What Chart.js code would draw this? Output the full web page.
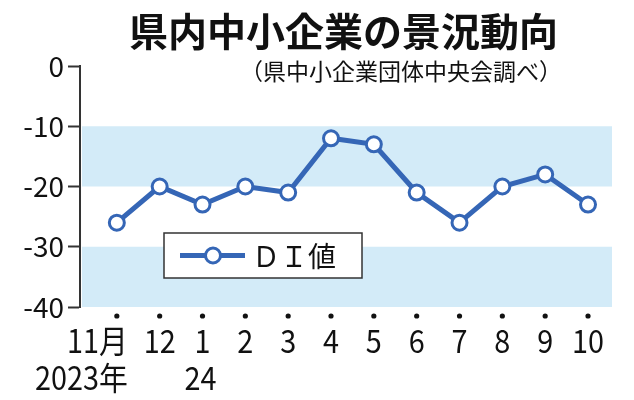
<!DOCTYPE html>
<html>
<head>
<meta charset="utf-8">
<script src="https://cdn.jsdelivr.net/npm/chart.js@4/dist/chart.umd.min.js"></script>
<style>
  html, body { margin: 0; padding: 0; background: #fff; }
  canvas { display: block; }
</style>
</head>
<body>
<canvas id="grafico" width="634" height="400"></canvas>
<script>
const titulo = '県内中小企業の景況動向'
const fuente = '（県中小企業団体中央会調べ）'
const meses = ['11月', '12', '1', '2', '3', '4', '5', '6', '7', '8', '9', '10']
const anios = ['2023年', '', '24', '', '', '', '', '', '', '', '', '']
const valoresDI = [-26, -20, -23, -20, -21, -12, -13, -21, -26, -20, -18, -23]
const etiquetaSerie = 'ＤＩ値'
const ticksY = [0, -10, -20, -30, -40]
const bandas = [[-10, -20], [-30, -40]]

const FAMILIA = '"Noto Sans CJK JP", "Noto Sans", sans-serif'
const AZUL = '#3566b6'

// texto un poco angosto, como en el original
const textoAngosto = (ctx, texto, x, y, alinear) => {
  ctx.save()
  ctx.translate(x, y)
  ctx.scale(0.9, 1)
  ctx.textAlign = alinear
  ctx.fillText(texto, 0, 0)
  ctx.restore()
}

// bandas celestes detras de la linea
const pluginBandas = {
  id: 'bandas',
  beforeDatasetsDraw(chart) {
    const { ctx, chartArea, scales } = chart
    ctx.save()
    ctx.fillStyle = '#d3ebf8'
    bandas.forEach(([a, b]) => {
      const y1 = scales.y.getPixelForValue(a)
      const y2 = scales.y.getPixelForValue(b)
      ctx.fillRect(chartArea.left + 2, y1, chartArea.right - chartArea.left - 2, y2 - y1)
    })
    ctx.restore()
  },
}

// titulo, eje x con puntos y leyenda en caja
const pluginTextos = {
  id: 'textos',
  afterDraw(chart) {
    const { ctx, chartArea, scales } = chart
    ctx.save()
    ctx.fillStyle = '#111'
    ctx.textBaseline = 'middle'
    ctx.textAlign = 'right'
    ctx.font = 'bold 39px ' + FAMILIA
    ctx.fillText(titulo, 558, 31)
    ctx.font = '23px ' + FAMILIA
    ctx.fillText(fuente, 562, 71)

    // eje x
    const base = chartArea.bottom
    ctx.font = '32px ' + FAMILIA
    meses.forEach((m, i) => {
      const x = scales.x.getPixelForValue(i)
      ctx.beginPath()
      ctx.arc(x, base + 9, 2.6, 0, Math.PI * 2)
      ctx.fill()
      if (i === 0) textoAngosto(ctx, m, x + 11, base + 34, 'right')
      else textoAngosto(ctx, m, x, base + 34, 'center')
      if (anios[i]) {
        if (i === 0) textoAngosto(ctx, anios[i], x + 11, base + 71, 'right')
        else textoAngosto(ctx, anios[i], x - 2, base + 71, 'center')
      }
    })

    // leyenda
    const lx = 164, ly = 233, lw = 198, lh = 45
    ctx.fillStyle = '#fff'
    ctx.fillRect(lx, ly, lw, lh)
    ctx.strokeStyle = '#333'
    ctx.lineWidth = 1.5
    ctx.strokeRect(lx, ly, lw, lh)
    ctx.strokeStyle = AZUL
    ctx.lineWidth = 5
    ctx.beginPath()
    ctx.moveTo(180, ly + lh / 2)
    ctx.lineTo(245, ly + lh / 2)
    ctx.stroke()
    ctx.fillStyle = '#fff'
    ctx.lineWidth = 3
    ctx.beginPath()
    ctx.arc(213, ly + lh / 2, 7.5, 0, Math.PI * 2)
    ctx.fill()
    ctx.stroke()
    ctx.fillStyle = '#111'
    ctx.textAlign = 'left'
    ctx.font = '28px ' + FAMILIA
    ctx.fillText(etiquetaSerie, 252, ly + lh / 2 + 1)
    ctx.restore()
  },
}

const contenedor = document.getElementById('grafico')

new Chart(contenedor, {
  type: 'line',
  data: {
    datasets: [
      {
        label: etiquetaSerie,
        data: valoresDI.map((v, i) => ({ x: i, y: v })),
        borderColor: AZUL,
        borderWidth: 5,
        pointRadius: 7.5,
        pointBorderWidth: 3,
        pointBackgroundColor: '#fff',
        pointBorderColor: AZUL,
        tension: 0,
      },
    ],
  },
  options: {
    responsive: false,
    animation: false,
    layout: {
      padding: { top: 66, bottom: 93, left: 0, right: 22 },
    },
    scales: {
      x: {
        type: 'linear',
        min: -0.86,
        max: 11.56,
        display: false,
      },
      y: {
        min: -40,
        max: 0,
        afterFit: (scale) => { scale.width = 80 },
        afterBuildTicks: (scale) => { scale.ticks = ticksY.map((v) => ({ value: v })) },
        border: { display: true, color: '#333', width: 2 },
        grid: {
          drawOnChartArea: false,
          tickLength: 12,
          tickColor: '#333',
          tickWidth: 2,
        },
        ticks: {
          color: '#111',
          padding: 4,
          font: { family: FAMILIA, size: 28 },
        },
      },
    },
    plugins: {
      legend: { display: false },
      tooltip: { enabled: false },
    },
  },
  plugins: [pluginBandas, pluginTextos],
})
</script>
</body>
</html>
